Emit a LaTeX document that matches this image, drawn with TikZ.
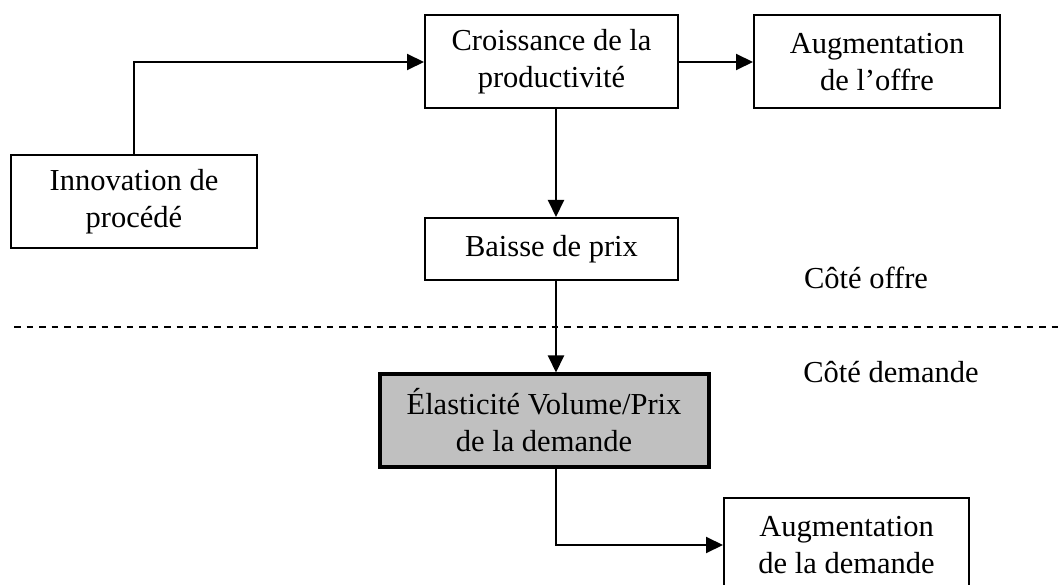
\documentclass[tikz,border=0pt]{standalone}
\usepackage{fontspec}
\setmainfont{Liberation Serif}
\usetikzlibrary{arrows.meta}
\definecolor{boxgray}{HTML}{C0C0C0}
\begin{document}
\begin{tikzpicture}[x=1pt,y=-1pt,
  every node/.style={font=\fontsize{30.5}{37}\selectfont},
  box/.style={draw, line width=2pt, rectangle, align=center, inner sep=0pt},
  keybox/.style={box, line width=4pt, fill=boxgray},
  conn/.style={line width=2pt, -{Triangle[length=17pt,width=16pt]}},
  sidelabel/.style={align=center, inner sep=0pt}]
\useasboundingbox (0,0) rectangle (1061,585);
\clip (0,0) rectangle (1061,585);
\node[box, minimum width=246pt, minimum height=93pt] (innov) at (134,202) {Innovation de\\procédé};
\node[box, minimum width=253pt, minimum height=93pt] (croiss) at (551.5,62) {Croissance de la\\productivité};
\node[box, minimum width=246pt, minimum height=93pt] (augoffre) at (877,62) {Augmentation\\de l’offre};
\node[box, minimum width=253pt, minimum height=62pt] (baisse) at (551.5,249) {Baisse de prix};
\node[keybox, minimum width=329pt, minimum height=92pt] (elast) at (544,420.5) {Élasticité Volume/Prix\\de la demande};
\node[box, minimum width=245pt, minimum height=94pt] (augdem) at (846.5,545) {Augmentation\\de la demande};
\node[sidelabel] (coffre) at (866,278) {Côté offre};
\node[sidelabel] (cdem) at (891,372) {Côté demande};
\coordinate (vx) at (556,0);
\coordinate (dl) at (14,327);
\coordinate (dr) at (1061,327);
\draw[line width=1.6pt, dash pattern=on 6.5pt off 6pt] (dl) -- (dr);
\draw[conn] (innov.north) |- (croiss.west);
\draw[conn] (croiss.east) -- (augoffre.west);
\draw[conn] (croiss.south -| vx) -- (baisse.north -| vx);
\draw[conn] (baisse.south -| vx) -- (elast.north -| vx);
\draw[conn] (elast.south -| vx) |- (augdem.west);
\end{tikzpicture}
\end{document}
